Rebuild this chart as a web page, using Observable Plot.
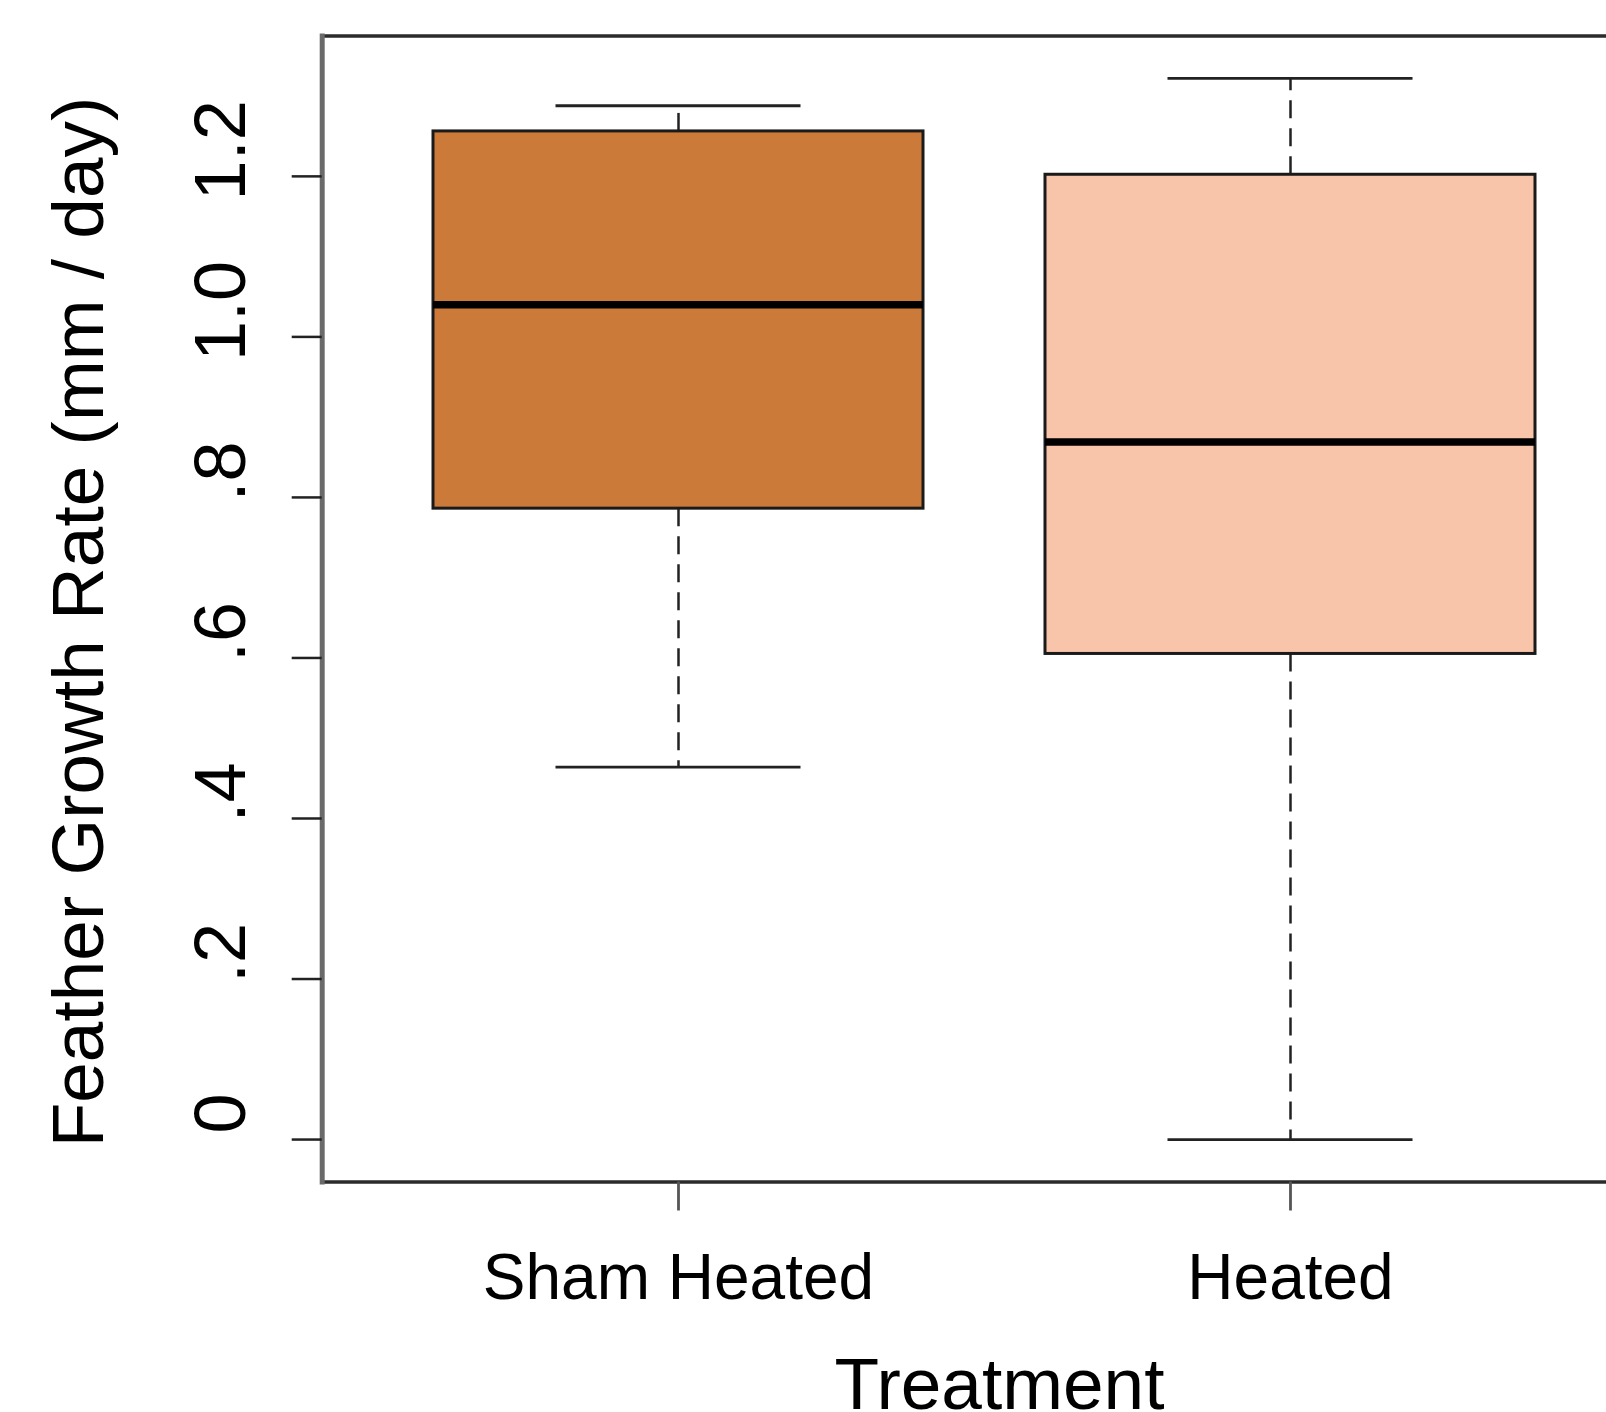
<!DOCTYPE html>
<html><head><meta charset="utf-8">
<script src="https://cdn.jsdelivr.net/npm/d3@7"></script>
<script src="https://cdn.jsdelivr.net/npm/@observablehq/plot@0.6"></script>
<style>
html,body{margin:0;padding:0;background:#fff;overflow:hidden;}
#wrap{width:1606px;height:1412px;overflow:hidden;position:relative;background:#fff;}
#wrap svg{max-width:none !important;width:1650px !important;height:1412px !important;display:block;}
</style></head><body><div id="wrap"></div>
<script>
// ---- data ----
const groups = ["Sham Heated", "Heated"];
const lowerWhisker = [0.464, 0.0];
const q1 = [0.786, 0.605];
const median = [1.040, 0.869];
const q3 = [1.256, 1.202];
const upperWhisker = [1.288, 1.322];
const boxColors = ["#CB7A3A", "#F8C4AA"];
const yTicks = [0, 0.2, 0.4, 0.6, 0.8, 1.0, 1.2];
const yTickLabels = ["0", ".2", ".4", ".6", ".8", "1.0", "1.2"];
const xTitle = "Treatment";
const yTitle = "Feather Growth Rate (mm / day)";

const stats = groups.map((g, i) => ({
  group: g, lower: lowerWhisker[i], q1: q1[i], median: median[i], q3: q3[i], upper: upperWhisker[i]
}));

// R-style 4% axis extension
const lo = d3.min(lowerWhisker), hi = d3.max(upperWhisker);
const pad = (hi - lo) * 0.04;

const W = 1650;
const marginLeft = 321.7;
const marginRight = W - 1645.3;
const capInset = 122.5;

const chart = Plot.plot({
  width: W,
  height: 1412,
  marginLeft,
  marginRight,
  marginTop: 35.5,
  marginBottom: 230.5,
  style: {fontFamily: "'Liberation Sans', Arial, sans-serif", fontSize: "64px", color: "black", background: "white", maxWidth: "none"},
  x: {type: "band", domain: groups, paddingInner: 0.2, paddingOuter: 0.18, label: null},
  y: {domain: [lo - pad, hi + pad], label: null},
  color: {domain: groups, range: boxColors},
  marks: [
    // whiskers (dashed)
    Plot.ruleX(stats, {x: "group", y1: "q3", y2: "upper", stroke: "#222", strokeWidth: 2.5, strokeDasharray: "18,10"}),
    Plot.ruleX(stats, {x: "group", y1: "q1", y2: "lower", stroke: "#222", strokeWidth: 2.5, strokeDasharray: "18,10"}),
    // whisker caps
    Plot.tickY(stats, {x: "group", y: "upper", stroke: "#222", strokeWidth: 2.8, insetLeft: capInset, insetRight: capInset}),
    Plot.tickY(stats, {x: "group", y: "lower", stroke: "#222", strokeWidth: 2.8, insetLeft: capInset, insetRight: capInset}),
    // boxes
    Plot.barY(stats, {x: "group", y1: "q1", y2: "q3", fill: "group", stroke: "#1a1a1a", strokeWidth: 3}),
    // medians
    Plot.tickY(stats, {x: "group", y: "median", stroke: "#000", strokeWidth: 7.5}),
    // frame
    Plot.frame({stroke: "#2b2b2b", strokeWidth: 3.5}),
    Plot.frame({anchor: "left", stroke: "#6a6a6a", strokeWidth: 5}),
    // y ticks
    Plot.axisY({ticks: yTicks, tickSize: 30, stroke: "#222", strokeWidth: 2.5, fill: null, label: null}),
    // y tick labels (rotated, like R)
    Plot.axisY({ticks: yTicks, tickSize: 30, tickPadding: 47.5, stroke: "none", tickRotate: -90,
      tickFormat: d => yTickLabels[yTicks.indexOf(d)], fontSize: 72, dy: -26, label: null}),
    // x ticks + labels
    Plot.axisX({tickSize: 29, tickPadding: 43, stroke: "#555", strokeWidth: 2.8, fontSize: 64, label: null}),
    // axis titles
    Plot.text([yTitle], {text: d => d, frameAnchor: "left", rotate: -90, textAnchor: "middle", lineAnchor: "bottom", dx: -219, dy: 13, fontSize: 73}),
    Plot.text([xTitle], {text: d => d, frameAnchor: "bottom", textAnchor: "middle", lineAnchor: "bottom", dx: 15.5, dy: 227, fontSize: 73})
  ]
});
document.getElementById("wrap").appendChild(chart);
</script>
</body></html>
